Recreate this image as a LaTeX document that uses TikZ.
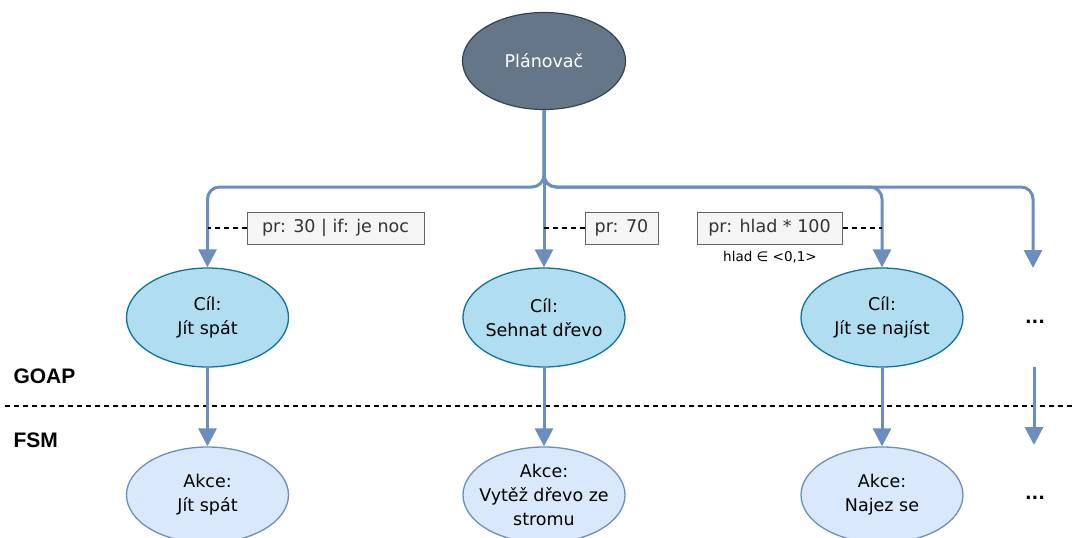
\documentclass[tikz,border=0pt]{standalone}
\usepackage{fontspec}
\setmainfont{DejaVu Sans}
\newfontfamily\labfont{Liberation Sans}
\usetikzlibrary{shapes.geometric,arrows.meta}
\definecolor{planfill}{HTML}{647687}
\definecolor{planline}{HTML}{314354}
\definecolor{cilfill}{HTML}{B1DDF0}
\definecolor{cilline}{HTML}{10739E}
\definecolor{akcefill}{HTML}{DAE8FC}
\definecolor{akceline}{HTML}{6C8EBF}
\definecolor{labfill}{HTML}{F5F5F5}
\definecolor{labline}{HTML}{666666}
\definecolor{labtext}{HTML}{333333}
\tikzset{
  txt/.style={font=\fontsize{17.5}{24}\selectfont},
  plan/.style={ellipse, draw=planline, fill=planfill, line width=1.2pt, text=white,
    minimum width=163pt, minimum height=97pt, inner sep=0pt, txt},
  cil/.style={ellipse, draw=cilline, fill=cilfill, line width=1.3pt, align=center,
    minimum width=162pt, minimum height=99pt, inner xsep=-30pt, inner ysep=-10pt, txt},
  akce/.style={ellipse, draw=akceline, fill=akcefill, line width=1.3pt, align=center,
    minimum width=162pt, minimum height=96pt, inner xsep=-30pt, inner ysep=-20pt, txt},
  lab/.style={draw=labline, fill=labfill, line width=1pt, text=labtext, inner sep=0pt,
    minimum height=32pt, txt},
  arr/.style={draw=akceline, line width=3pt, -{Triangle[width=18pt,length=18pt]}},
  sep/.style={line width=1.4pt, dash pattern=on 5pt off 4pt},
  sect/.style={font=\labfont\bfseries\fontsize{21}{24}\selectfont, anchor=west},
  dots/.style={font=\bfseries\fontsize{17.5}{24}\selectfont}
}
\begin{document}
\begin{tikzpicture}[x=1pt,y=-1pt]
\useasboundingbox (0,0) rectangle (1074,538);
% nodes
\node[plan] (plan) at (544,61) {Plánovač};
\coordinate (hub) at (544,187);
\node[cil] (c1) at (207.5,317.5) {Cíl:\\Jít spát};
\node[cil] (c2) at (544,317.5) {Cíl:\\Sehnat dřevo};
\node[cil] (c3) at (882,317.5) {Cíl:\\Jít se najíst};
\node[dots] (d1) at (1035,322) {...};
\coordinate (d1top) at (1033,268);
\node[akce] (a1) at (207.5,495) {Akce:\\Jít spát};
\node[akce] (a2) at (544,495) {Akce:\\Vytěž dřevo ze\\stromu};
\node[akce] (a3) at (882,495) {Akce:\\Najez se};
\node[dots] (d2) at (1035,498) {...};
\coordinate (d2from) at (1034,367);
\coordinate (d2to) at (1034,445);
% labels
\node[lab, minimum width=177pt] (l1) at (335.5,228) {pr: 30 | if: je noc};
\node[lab, minimum width=73pt] (l2) at (621.5,228) {pr: 70};
\node[lab, minimum width=145pt] (l3) at (769.5,228) {pr: hlad * 100};
\node[font=\fontsize{13.5}{16}\selectfont] (h) at (770,257) {hlad ∈ <0,1>};
% section labels
\node[sect] (goap) at (10,376) {GOAP};
\node[sect] (fsm) at (10,440) {FSM};
\coordinate (sepL) at (5,406);
\coordinate (sepR) at (1074,406);
\draw[sep] (sepL) -- (sepR);
% connectors
\draw[arr] (plan) -- (c2);
\draw[arr, rounded corners=12pt] (plan.south) -- (hub) -| (c1.north);
\draw[arr, rounded corners=12pt] (plan.south) -- (hub) -| (c3.north);
\draw[arr, rounded corners=12pt] (plan.south) -- (hub) -| (d1top);
\draw[arr] (c1) -- (a1);
\draw[arr] (c2) -- (a2);
\draw[arr] (c3) -- (a3);
\draw[arr] (d2from) -- (d2to);
% label leaders
\draw[sep] (l1.west) -- (l1.west -| c1.north);
\draw[sep] (l2.west) -- (l2.west -| c2.north);
\draw[sep] (l3.east) -- (l3.east -| c3.north);
\end{tikzpicture}
\end{document}
